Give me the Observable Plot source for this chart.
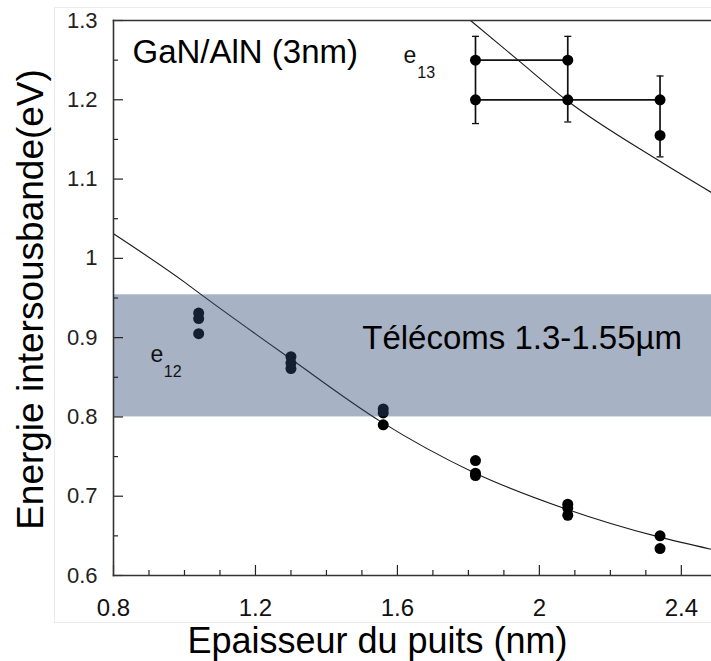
<!DOCTYPE html>
<html>
<head>
<meta charset="utf-8">
<script src="https://cdn.jsdelivr.net/npm/d3@7"></script>
<script src="https://cdn.jsdelivr.net/npm/@observablehq/plot@0.6"></script>
<style>
  html, body { margin: 0; padding: 0; background: #fff; }
  #chart svg { display: block; }
</style>
</head>
<body>
<div id="chart"></div>
<script>
// Measured intersubband transitions in GaN/AlN quantum wells
const e12Thickness = [1.04, 1.04, 1.04, 1.3, 1.3, 1.3, 1.56, 1.56, 1.56, 1.82, 1.82, 1.82, 2.08, 2.08, 2.08, 2.34, 2.34];
const e12Energy    = [0.931, 0.924, 0.905, 0.876, 0.868, 0.861, 0.810, 0.805, 0.790, 0.745, 0.729, 0.726, 0.690, 0.685, 0.676, 0.650, 0.634];

const e13Thickness = [1.82, 1.82, 2.08, 2.08, 2.34, 2.34];
const e13Energy    = [1.25, 1.2, 1.25, 1.2, 1.2, 1.155];

// e13 vertical error bars
const e13BarThickness = [1.82, 2.08, 2.34];
const e13BarLow       = [1.17, 1.172, 1.128];
const e13BarHigh      = [1.28, 1.28, 1.23];

// e13 horizontal links
const e13LinkEnergy = [1.25, 1.2];
const e13LinkFrom   = [1.82, 1.82];
const e13LinkTo     = [2.08, 2.34];

// Computed transition energies
const modelE12Thickness = [0.8, 1.0, 1.054, 1.3, 1.55, 1.815, 2.075, 2.334, 2.485];
const modelE12Energy    = [1.031, 0.970, 0.952, 0.873, 0.795, 0.730, 0.684, 0.649, 0.633];
const modelE13Thickness = [1.806, 1.94, 2.075, 2.334, 2.485];
const modelE13Energy    = [1.30, 1.25, 1.2, 1.124, 1.083];

// Telecom window 1.3-1.55 µm
const telecomLow = 0.8;
const telecomHigh = 0.954;

const xMajor = [0.8, 1.2, 1.6, 2.0, 2.4];
const xMinor = [0.9, 1.0, 1.1, 1.3, 1.4, 1.5, 1.7, 1.8, 1.9, 2.1, 2.2, 2.3];
const yMajor = [0.6, 0.7, 0.8, 0.9, 1.0, 1.1, 1.2, 1.3];
const yMinor = [0.65, 0.75, 0.85, 0.95, 1.05, 1.15, 1.25];

const e12 = e12Thickness.map((x, i) => ({x, y: e12Energy[i]}));
const e13 = e13Thickness.map((x, i) => ({x, y: e13Energy[i]}));
const bars = e13BarThickness.map((x, i) => ({x, lo: e13BarLow[i], hi: e13BarHigh[i]}));
const caps = bars.flatMap(b => [{x: b.x, y: b.lo}, {x: b.x, y: b.hi}]);
const links = e13LinkEnergy.map((y, i) => ({y, x1: e13LinkFrom[i], x2: e13LinkTo[i]}));
const model12 = modelE12Thickness.map((x, i) => ({x, y: modelE12Energy[i]}));
const model13 = modelE13Thickness.map((x, i) => ({x, y: modelE13Energy[i]}));

const capSymbol = {draw(ctx) { ctx.moveTo(-3.5, 0); ctx.lineTo(3.5, 0); }};
const fmt = d => d3.format("~g")(d);
const FONT = "'Liberation Sans', Arial, sans-serif";

const chart = Plot.plot({
  width: 711,
  height: 661,
  marginLeft: 113,
  marginRight: 0,
  marginTop: 20,
  marginBottom: 86,
  style: {fontFamily: FONT, overflow: "visible", background: "#fff"},
  x: {domain: [0.8, 2.485]},
  y: {domain: [0.6, 1.3]},
  marks: [
    Plot.frame({insetLeft: -59, insetTop: -13, insetBottom: -47, insetRight: -20, stroke: "#ebebeb", strokeWidth: 1}),
    Plot.line(model12, {x: "x", y: "y", curve: "monotone-x", stroke: "#1a1a1a", strokeWidth: 1.1}),
    Plot.line(model13, {x: "x", y: "y", curve: "monotone-x", stroke: "#1a1a1a", strokeWidth: 1.1}),
    Plot.ruleX(bars, {x: "x", y1: "lo", y2: "hi", stroke: "#111", strokeWidth: 1.7}),
    Plot.dot(caps, {x: "x", y: "y", symbol: capSymbol, r: 4, stroke: "#111", strokeWidth: 1.3, fill: "none"}),
    Plot.ruleY(links, {y: "y", x1: "x1", x2: "x2", stroke: "#111", strokeWidth: 1.7}),
    Plot.dot(e12, {x: "x", y: "y", r: 5.5, fill: "#000", stroke: "none"}),
    Plot.dot(e13, {x: "x", y: "y", r: 5.5, fill: "#000", stroke: "none"}),
    Plot.rect([{lo: telecomLow, hi: telecomHigh}], {y1: "lo", y2: "hi", fill: "rgb(47,74,116)", fillOpacity: 0.424}),
    Plot.text(["Télécoms 1.3-1.55µm"], {x: 1.501, y: 0.886, text: d => d, textAnchor: "start", lineAnchor: "bottom", fontSize: 33, fill: "#000"}),
    Plot.text(["GaN/AlN (3nm)"], {x: 0.8535, y: 1.247, text: d => d, textAnchor: "start", lineAnchor: "bottom", fontSize: 33, fill: "#000"}),
    Plot.text(["e"], {x: 1.617, y: 1.247, text: d => d, textAnchor: "start", lineAnchor: "bottom", fontSize: 23, fill: "#111"}),
    Plot.text(["13"], {x: 1.656, y: 1.228, text: d => d, textAnchor: "start", lineAnchor: "bottom", fontSize: 16, fill: "#111"}),
    Plot.text(["e"], {x: 0.904, y: 0.8687, text: d => d, textAnchor: "start", lineAnchor: "bottom", fontSize: 23, fill: "#111"}),
    Plot.text(["12"], {x: 0.9417, y: 0.8498, text: d => d, textAnchor: "start", lineAnchor: "bottom", fontSize: 16, fill: "#111"}),
    // inward ticks
    Plot.axisY(yMajor, {tickSize: -10, tickFormat: () => "", label: null, stroke: "#222", strokeWidth: 1.2}),
    Plot.axisY(yMinor, {tickSize: -5, tickFormat: () => "", label: null, stroke: "#222", strokeWidth: 1.2}),
    Plot.axisX(xMajor, {tickSize: -10, tickFormat: () => "", label: null, stroke: "#222", strokeWidth: 1.2}),
    Plot.axisX(xMinor, {tickSize: -5, tickFormat: () => "", label: null, stroke: "#222", strokeWidth: 1.2}),
    // tick labels
    Plot.axisY(yMajor, {tickSize: 0, tickPadding: 16, tickFormat: fmt, label: null, fontSize: 22, fill: "#222"}),
    Plot.axisX(xMajor, {tickSize: 0, tickPadding: 23, tickFormat: fmt, label: null, fontSize: 24, fill: "#111"}),
    // axis lines
    Plot.frame({anchor: "left", stroke: "#333", strokeWidth: 1.6}),
    Plot.frame({anchor: "bottom", stroke: "#333", strokeWidth: 1.6}),
    Plot.frame({anchor: "top", stroke: "#333", strokeWidth: 1.6}),
    // axis titles
    Plot.text(["Epaisseur du puits (nm)"], {frameAnchor: "bottom", text: d => d, textAnchor: "middle", dx: -35, dy: 77, lineAnchor: "bottom", fontSize: 36, fill: "#000"}),
    Plot.text(["Energie intersousbande(eV)"], {frameAnchor: "left", text: d => d, textAnchor: "middle", rotate: -90, dx: -71, dy: 1.5, lineAnchor: "bottom", fontSize: 37, fill: "#000"})
  ]
});

document.getElementById("chart").appendChild(chart);
</script>
</body>
</html>
